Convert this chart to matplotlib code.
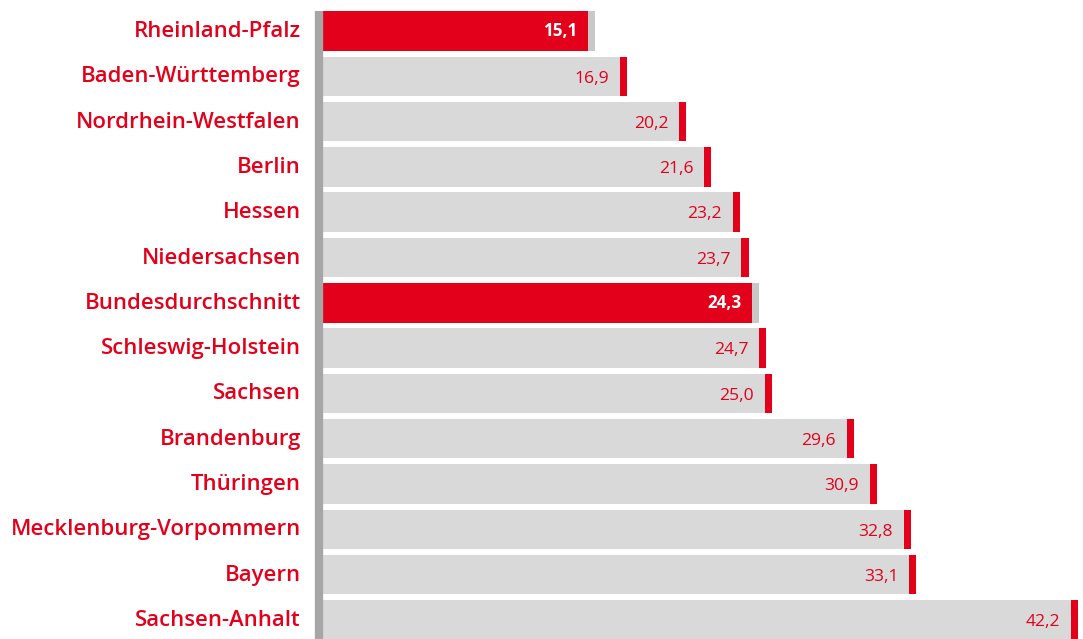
import matplotlib
matplotlib.use("Agg")
import matplotlib.pyplot as plt

categories = ["Rheinland-Pfalz", "Baden-Württemberg", "Nordrhein-Westfalen", "Berlin",
              "Hessen", "Niedersachsen", "Bundesdurchschnitt", "Schleswig-Holstein",
              "Sachsen", "Brandenburg", "Thüringen", "Mecklenburg-Vorpommern",
              "Bayern", "Sachsen-Anhalt"]
values = [15.1, 16.9, 20.2, 21.6, 23.2, 23.7, 24.3, 24.7, 25.0, 29.6, 30.9, 32.8, 33.1, 42.2]
labels = ["15,1", "16,9", "20,2", "21,6", "23,2", "23,7", "24,3", "24,7", "25,0",
          "29,6", "30,9", "32,8", "33,1", "42,2"]
highlight = ["Rheinland-Pfalz", "Bundesdurchschnitt"]

RED = "#e2001a"
GRAY = "#d9d9d9"
CAPGRAY = "#c8c8c8"
AXGRAY = "#a6a6a6"

W, H = 1083, 639
fig = plt.figure(figsize=(W / 100, H / 100), dpi=100)
zero_px = 326
x0, x1 = 323, 1083
ytop, ybot = 11, 639
ax = fig.add_axes([x0 / W, 1 - ybot / H, (x1 - x0) / W, (ybot - ytop) / H])

pitch = 45.3
first_center = 31
scale = 17.83  # px per unit
pad = (zero_px - x0) / scale
ax.set_xlim(-pad, (x1 - zero_px) / scale)
ax.set_ylim((ybot - first_center) / pitch, -(first_center - ytop) / pitch)

mark = 0.4
bh = 0.87
font = "Open Sans"
for i, (c, v, lab) in enumerate(zip(categories, values, labels)):
    if c in highlight:
        ax.barh(i, v - mark + pad, height=bh, color=RED, left=-pad)
        ax.barh(i, mark, height=bh, color=CAPGRAY, left=v - mark)
        ax.text(v - mark - 0.6, i, lab, ha="right", va="center", color="white",
                fontsize=12.3, fontweight="bold", family=font)
    else:
        ax.barh(i, v - mark + pad, height=bh, color=GRAY, left=-pad)
        ax.barh(i, mark, height=bh, color=RED, left=v - mark)
        ax.text(v - mark - 0.6, i + 0.05, lab, ha="right", va="center", color=RED,
                fontsize=12.6, fontweight="medium", family=font)
    fig.text(301 / W, 1 - (first_center + 0.5 + i * pitch) / H, c, ha="right",
             va="center", color=RED, fontsize=15.9, fontweight="semibold", family=font)

ax.axis("off")
# vertical axis line
fig.add_artist(plt.Line2D([319 / W, 319 / W], [0, 1 - ytop / H], color=AXGRAY, lw=6,
                          solid_capstyle="butt"))

fig.savefig("out.png", dpi=100)
